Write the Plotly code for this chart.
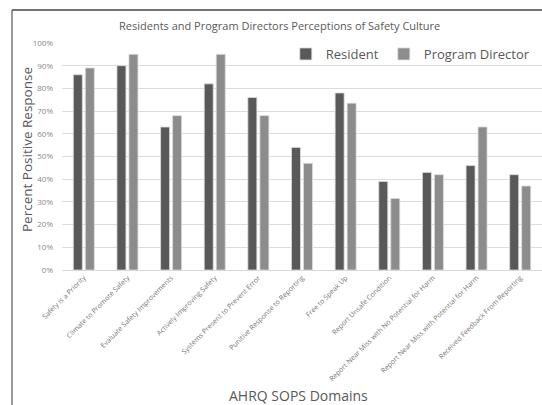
import plotly.graph_objects as go

categories = ["Safety is a Priority", "Climate to Promote Safety", "Evaluate Safety Improvements",
              "Actively Improving Safety", "Systems Present to Prevent Error",
              "Punitive Response to Reporting", "Free to Speak Up", "Report Unsafe Condition",
              "Report Near Miss with No Potential for Harm", "Report Near Miss with Potential for Harm",
              "Received Feedback From Reporting"]
resident = [0.86, 0.90, 0.63, 0.82, 0.76, 0.54, 0.78, 0.39, 0.43, 0.46, 0.42]
director = [0.89, 0.95, 0.68, 0.95, 0.68, 0.47, 0.735, 0.315, 0.42, 0.63, 0.37]

FONT = "Open Sans"
fig = go.Figure()
fig.add_trace(go.Bar(x=categories, y=resident, name="Resident",
                     marker=dict(color="#595959", line=dict(color="#dcdcdc", width=0.8))))
fig.add_trace(go.Bar(x=categories, y=director, name="Program Director",
                     marker=dict(color="#8c8c8c", line=dict(color="#dcdcdc", width=0.8))))

L, R, T, B = 62, 0, 43, 135
W, H = 542, 405
ph = H - T - B
pw = W - L - R

def px(x):
    return (x - L) / pw

def py(y):
    return (H - B - y) / ph

fig.update_layout(
    width=W, height=H,
    margin=dict(l=L, r=R, t=T, b=B, pad=0),
    paper_bgcolor="white", plot_bgcolor="white",
    font=dict(family=FONT, color="#595959"),
    barmode="group", bargap=0.45, bargroupgap=0.25,
    showlegend=True,
    legend=dict(orientation="h", x=0.985, xanchor="right", y=py(54), yanchor="middle",
                font=dict(size=13, color="#595959"), bgcolor="rgba(0,0,0,0)",
                itemwidth=30, traceorder="normal"),
    xaxis=dict(tickangle=-45, tickfont=dict(size=7, color="#777777"), showgrid=False,
               showline=True, linecolor="#d9d9d9", ticks="", automargin=False),
    yaxis=dict(range=[0, 1], dtick=0.1, tickformat=".0%", tickfont=dict(size=8, color="#888888"),
               showgrid=True, gridcolor="#dcdcdc", gridwidth=1, zeroline=False,
               ticks="", automargin=False, ticklabelstandoff=8),
    annotations=[
        dict(text="Residents and Program Directors Perceptions of Safety Culture", x=px(279), y=py(25),
             xref="paper", yref="paper", showarrow=False, font=dict(size=11, color="#595959"),
             xanchor="center", yanchor="middle"),
        dict(text="Percent Positive Response", x=px(27), y=py(150), xref="paper", yref="paper",
             showarrow=False, textangle=-90, font=dict(size=13.5, color="#595959"),
             xanchor="center", yanchor="middle"),
        dict(text="AHRQ SOPS Domains", x=px(298), y=py(395), xref="paper", yref="paper",
             showarrow=False, font=dict(size=14, color="#595959"),
             xanchor="center", yanchor="middle"),
    ],
    shapes=[
        dict(type="line", xref="paper", yref="paper", x0=px(12), x1=px(542), y0=py(10), y1=py(10),
             line=dict(color="#444444", width=1.5)),
        dict(type="line", xref="paper", yref="paper", x0=px(12), x1=px(12), y0=py(10), y1=py(405),
             line=dict(color="#777777", width=1.5)),
    ],
)

fig.write_html("out.html")
